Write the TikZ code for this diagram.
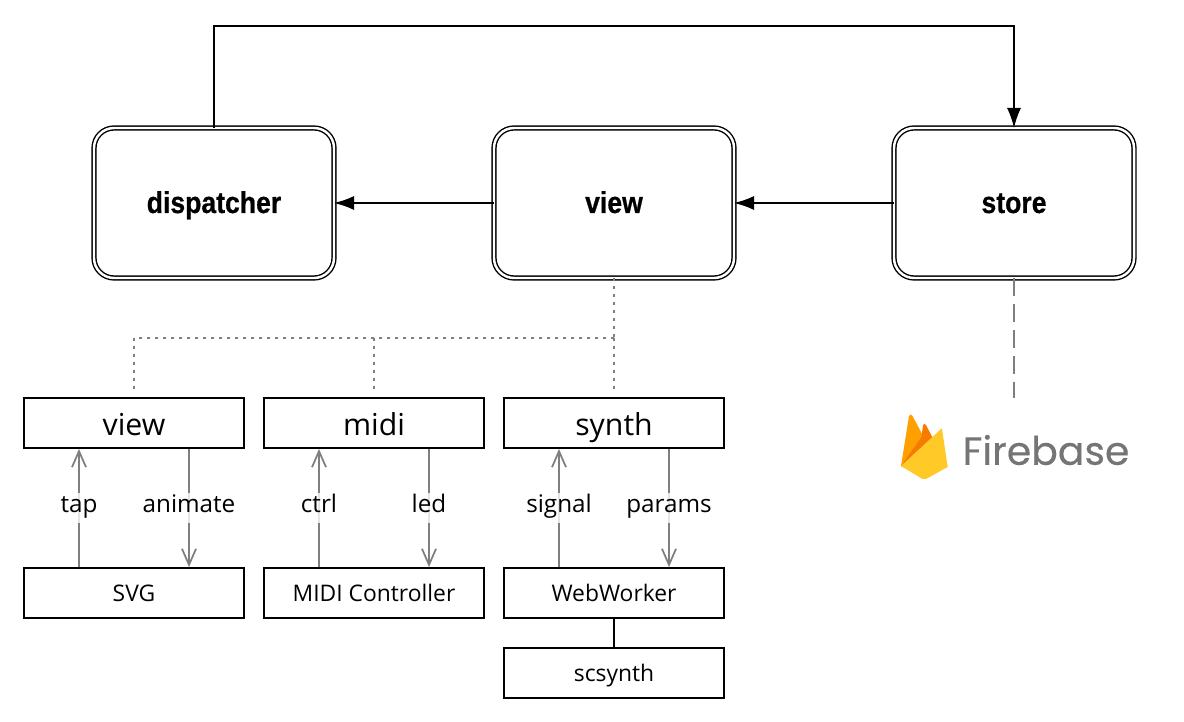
\documentclass[tikz,border=0pt]{standalone}
\usepackage{fontspec}
\setmainfont{Open Sans}
\newfontfamily\headfont[FakeStretch=0.88,FakeBold=0.6]{Liberation Sans Bold}
\newfontfamily\logofont[FakeBold=0.35]{Poppins}
\usetikzlibrary{arrows.meta}
\definecolor{linegray}{HTML}{7F7F7F}
\definecolor{logogray}{HTML}{757575}
\tikzset{
  mainbox/.style={draw,line width=.4pt,double,double distance=.7pt,rounded corners=.2cm,minimum width=2.4cm,minimum height=1.5cm,outer sep=0pt,text height=.2cm,text depth=0pt,font=\headfont\fontsize{8.6}{10}\selectfont},
  modbox/.style={draw,line width=.55pt,minimum width=2.2cm,minimum height=.5cm,inner sep=0pt,text height=.26cm,text depth=0pt,font=\fontsize{8.6}{10}\selectfont},
  srcbox/.style={draw,line width=.55pt,minimum width=2.2cm,minimum height=.5cm,inner sep=0pt,text height=.18cm,text depth=0pt,font=\fontsize{6.5}{8}\selectfont},
  flow/.style={draw=black,line width=.45pt,-{Latex[length=.2cm,width=.14cm]}},
  msg/.style={draw=linegray,line width=.5pt,-{Straight Barb[length=.16cm,width=.14cm,line width=.5pt]}},
  msglabel/.style={midway,fill=white,fill opacity=.8,text opacity=1,inner xsep=0pt,inner ysep=0pt,text height=.2cm,text depth=.1cm,font=\fontsize{6.9}{8}\selectfont},
  dotline/.style={draw=linegray,line width=.55pt,dash pattern=on .03cm off .05cm},
  longdash/.style={draw=linegray,line width=.55pt,dash pattern=on .18cm off .08cm}
}
\begin{document}
\begin{tikzpicture}
 \useasboundingbox (0,0) rectangle (11.84,7.22);

 \node[mainbox] (dispatcher) at (2.14,5.19) {dispatcher};
 \node[mainbox] (view) at (6.14,5.19) {view};
 \node[mainbox] (store) at (10.14,5.19) {store};

 \node[modbox] (viewmod) at (1.34,2.99) {view};
 \node[modbox] (midi) at (3.74,2.99) {midi};
 \node[modbox] (synth) at (6.14,2.99) {synth};

 \node[srcbox] (svg) at (1.34,1.29) {SVG};
 \node[srcbox] (controller) at (3.74,1.29) {MIDI Controller};
 \node[srcbox] (worker) at (6.14,1.29) {WebWorker};
 \node[srcbox] (scsynth) at (6.14,.49) {scsynth};

 \coordinate (branch) at (6.14,3.84);
 \coordinate (firebasetop) at (10.14,3.24);

 \draw[flow] (dispatcher.north) |- (6.14,6.96) -| (store.north);
 \draw[flow] (view.west) -- (dispatcher.east);
 \draw[flow] (store.west) -- (view.east);

 \draw[dotline] (view.south) -- (branch);
 \draw[dotline] (branch) -- (3.74,3.84) -- (1.34,3.84) -- ([yshift=.08cm]viewmod.north);
 \draw[dotline] (3.74,3.84) -- ([yshift=.08cm]midi.north);
 \draw[dotline] (branch) -- ([yshift=.08cm]synth.north);
 \draw[longdash] (store.south) -- (firebasetop);

 \draw[msg] ([xshift=-.55cm]svg.north) -- ([xshift=-.55cm]viewmod.south) node[msglabel] {tap};
 \draw[msg] ([xshift=.55cm]viewmod.south) -- ([xshift=.55cm]svg.north) node[msglabel] {animate};
 \draw[msg] ([xshift=-.55cm]controller.north) -- ([xshift=-.55cm]midi.south) node[msglabel] {ctrl};
 \draw[msg] ([xshift=.55cm]midi.south) -- ([xshift=.55cm]controller.north) node[msglabel] {led};
 \draw[msg] ([xshift=-.55cm]worker.north) -- ([xshift=-.55cm]synth.south) node[msglabel] {signal};
 \draw[msg] ([xshift=.55cm]synth.south) -- ([xshift=.55cm]worker.north) node[msglabel] {params};
 \draw[line width=.55pt] (worker) -- (scsynth);

 \fill[color={rgb,255:red,255;green,160;blue,0}] (9.01,2.56) -- (9.09,3.06) .. controls (9.10,3.08) and (9.115,3.08) .. (9.125,3.06) -- (9.29,2.75) -- (9.15,2.5) -- cycle;
 \fill[color={rgb,255:red,245;green,124;blue,0}] (9.01,2.56) -- (9.215,2.85) -- (9.23,2.97) .. controls (9.235,2.985) and (9.25,2.985) .. (9.26,2.97) -- (9.40,2.70) -- (9.2,2.5) -- cycle;
 \fill[color={rgb,255:red,255;green,202;blue,40}] (9.01,2.56) -- (9.40,2.92) .. controls (9.41,2.94) and (9.42,2.94) .. (9.42,2.93) -- (9.477,2.55) -- (9.26,2.43) .. controls (9.25,2.425) and (9.235,2.425) .. (9.225,2.43) -- cycle;
 \node[inner sep=0pt,text=logogray,font=\logofont\fontsize{11.2}{13}\selectfont] (firebase) at (10.46,2.72) {Firebase};
\end{tikzpicture}
\end{document}
